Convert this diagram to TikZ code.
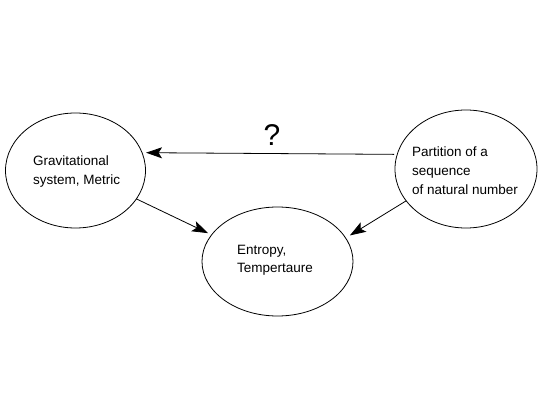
\documentclass[tikz,border=0pt]{standalone}
\usepackage{fontspec}
\setmainfont{Liberation Sans}
\usetikzlibrary{shapes.geometric,arrows.meta}
\begin{document}
\begin{tikzpicture}[x=1pt,y=-1pt,
  ell/.style={draw=black,line width=0.8pt,ellipse,inner sep=0pt,outer sep=0pt},
  lbl/.style={align=left,inner sep=0pt,font=\fontsize{13.5}{18.6}\selectfont},
  conn/.style={draw=black,line width=0.8pt,-{Stealth[length=16pt,width=11pt,inset=3.5pt]}},
  q/.style={inner sep=0pt,font=\fontsize{30}{32}\selectfont}]
\useasboundingbox (0,0) rectangle (542,404);
\node[ell,minimum width=140pt,minimum height=115pt] (l) at (75.5,170.5) {};
\node[ell,minimum width=151pt,minimum height=109pt] (m) at (277.5,261.5) {};
\node[ell,minimum width=142pt,minimum height=118pt] (r) at (466,169) {};
\node[lbl] (lt) at (76.7,171.5) {Gravitational\\system, Metric};
\node[lbl] (mt) at (275,260.3) {Entropy,\\Tempertaure};
\node[lbl,font=\fontsize{13.5}{19}\selectfont] (rt) at (465,170.8) {Partition of a\\sequence\\of natural number};
\node[q,anchor=base] (qm) at (272,146) {?};
\draw[conn,shorten <=3pt,shorten >=4pt] (r.168) -- (l.15);
\draw[conn,shorten >=4pt] (l.-25) -- (m.158);
\draw[conn,shorten >=5pt] (r.208) -- (m.19);
\end{tikzpicture}
\end{document}
